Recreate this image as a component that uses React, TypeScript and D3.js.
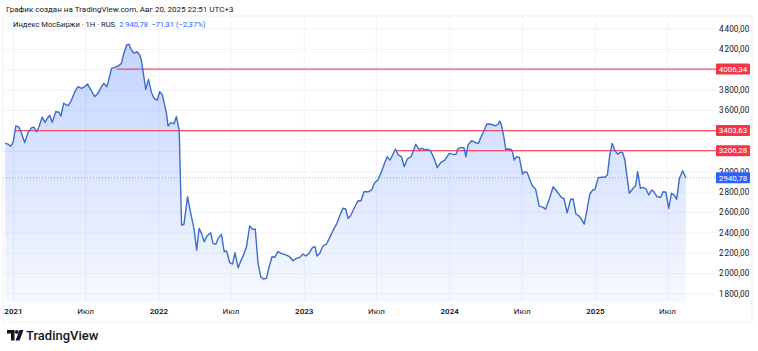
import * as d3 from "d3";

// weekly closes of the MOEX index
const dates = [
  "2020-12-11", "2020-12-18", "2020-12-25", "2020-12-31", "2021-01-07", "2021-01-14", "2021-01-21", "2021-01-29",
  "2021-02-07", "2021-02-15", "2021-02-21", "2021-02-28", "2021-03-06", "2021-03-14", "2021-03-21", "2021-03-27",
  "2021-04-02", "2021-04-08", "2021-04-17", "2021-04-25", "2021-04-30", "2021-05-07", "2021-05-18", "2021-05-25",
  "2021-06-04", "2021-06-12", "2021-06-21", "2021-06-29", "2021-07-06", "2021-07-13", "2021-07-24", "2021-08-01",
  "2021-08-10", "2021-08-16", "2021-08-23", "2021-08-27", "2021-09-04", "2021-09-12", "2021-09-21", "2021-09-29",
  "2021-10-05", "2021-10-12", "2021-10-18", "2021-10-24", "2021-10-31", "2021-11-07", "2021-11-14", "2021-11-18",
  "2021-11-29", "2021-12-06", "2021-12-14", "2021-12-20", "2021-12-28", "2022-01-03", "2022-01-10", "2022-01-20",
  "2022-01-24", "2022-01-31", "2022-02-08", "2022-02-14", "2022-02-21", "2022-02-27", "2022-03-05", "2022-03-14",
  "2022-03-22", "2022-03-30", "2022-04-06", "2022-04-12", "2022-04-18", "2022-04-25", "2022-05-02", "2022-05-11",
  "2022-05-17", "2022-05-24", "2022-05-30", "2022-06-07", "2022-06-14", "2022-06-20", "2022-06-28", "2022-07-05",
  "2022-07-11", "2022-07-19", "2022-07-26", "2022-08-02", "2022-08-09", "2022-08-17", "2022-08-24", "2022-08-31",
  "2022-09-07", "2022-09-14", "2022-09-20", "2022-09-28", "2022-10-05", "2022-10-12", "2022-10-19", "2022-10-27",
  "2022-11-04", "2022-11-17", "2022-11-25", "2022-12-04", "2022-12-12", "2022-12-21", "2022-12-29", "2023-01-05",
  "2023-01-13", "2023-01-22", "2023-01-28", "2023-02-02", "2023-02-09", "2023-02-17", "2023-02-26", "2023-03-06",
  "2023-03-14", "2023-03-24", "2023-03-31", "2023-04-08", "2023-04-15", "2023-04-21", "2023-04-27", "2023-05-08",
  "2023-05-16", "2023-05-23", "2023-05-31", "2023-06-10", "2023-06-19", "2023-06-27", "2023-07-05", "2023-07-14",
  "2023-07-22", "2023-07-28", "2023-08-04", "2023-08-11", "2023-08-18", "2023-08-25", "2023-09-02", "2023-09-09",
  "2023-09-17", "2023-09-26", "2023-10-01", "2023-10-08", "2023-10-16", "2023-10-25", "2023-10-31", "2023-11-06",
  "2023-11-14", "2023-11-23", "2023-12-01", "2023-12-10", "2023-12-20", "2023-12-31", "2024-01-10", "2024-01-17",
  "2024-01-22", "2024-01-31", "2024-02-06", "2024-02-11", "2024-02-16", "2024-02-25", "2024-03-07", "2024-03-13",
  "2024-03-21", "2024-03-28", "2024-04-03", "2024-04-11", "2024-04-19", "2024-04-26", "2024-05-02", "2024-05-06",
  "2024-05-10", "2024-05-16", "2024-05-21", "2024-05-27", "2024-06-03", "2024-06-07", "2024-06-11", "2024-06-17",
  "2024-06-24", "2024-07-02", "2024-07-08", "2024-07-14", "2024-07-20", "2024-07-27", "2024-08-04", "2024-08-13",
  "2024-08-23", "2024-08-29", "2024-09-07", "2024-09-17", "2024-09-27", "2024-10-08", "2024-10-14", "2024-10-22",
  "2024-10-31", "2024-11-06", "2024-11-13", "2024-11-21", "2024-11-27", "2024-12-04", "2024-12-12", "2024-12-18",
  "2024-12-25", "2024-12-31", "2025-01-08", "2025-01-16", "2025-01-25", "2025-01-31", "2025-02-06", "2025-02-12",
  "2025-02-19", "2025-02-26", "2025-03-04", "2025-03-10", "2025-03-16", "2025-03-22", "2025-03-27", "2025-04-06",
  "2025-04-12", "2025-04-17", "2025-04-24", "2025-05-01", "2025-05-08", "2025-05-15", "2025-05-22", "2025-05-28",
  "2025-06-05", "2025-06-14", "2025-06-20", "2025-06-27", "2025-07-04", "2025-07-11", "2025-07-18", "2025-07-24",
  "2025-07-31", "2025-08-08", "2025-08-16",
];

const closes = [
  3280, 3270, 3250, 3290, 3450, 3440, 3380, 3285,
  3390, 3430, 3438, 3392, 3441, 3536, 3484, 3524,
  3553, 3484, 3588, 3583, 3546, 3671, 3647, 3687,
  3785, 3834, 3818, 3834, 3860, 3811, 3736, 3769,
  3834, 3867, 3834, 3883, 4014, 4024, 4037, 4063,
  4162, 4243, 4250, 4194, 4162, 4177, 4145, 4096,
  3808, 3906, 3769, 3720, 3703, 3785, 3752, 3573,
  3448, 3481, 3471, 3541, 3409, 2477, 2484, 2754,
  2591, 2444, 2231, 2444, 2395, 2313, 2372, 2401,
  2297, 2287, 2346, 2385, 2215, 2222, 2107, 2094,
  2205, 2058, 2126, 2189, 2264, 2467, 2434, 2437,
  2101, 1969, 1947, 1954, 2067, 2166, 2160, 2215,
  2199, 2182, 2166, 2126, 2150, 2160, 2192, 2173,
  2199, 2258, 2264, 2173, 2199, 2271, 2290, 2356,
  2421, 2493, 2565, 2641, 2634, 2542, 2565, 2656,
  2715, 2712, 2803, 2803, 2820, 2892, 2918, 3000,
  3088, 3147, 3114, 3164, 3222, 3164, 3147, 3049,
  3126, 3147, 3196, 3269, 3220, 3229, 3213, 3220,
  3206, 3131, 3039, 3092, 3114, 3180, 3170, 3170,
  3229, 3239, 3235, 3147, 3262, 3304, 3284, 3278,
  3350, 3409, 3465, 3468, 3458, 3451, 3468, 3497,
  3458, 3343, 3220, 3222, 3220, 3190, 3114, 3147,
  3141, 2977, 3000, 2990, 2925, 2859, 2827, 2663,
  2650, 2631, 2729, 2852, 2803, 2745, 2739, 2597,
  2729, 2732, 2585, 2565, 2533, 2486, 2650, 2781,
  2820, 2827, 2941, 2945, 2945, 2967, 3164, 3278,
  3206, 3173, 3190, 3190, 3114, 2935, 2788, 2837,
  2862, 3000, 2837, 2847, 2830, 2771, 2820, 2803,
  2754, 2749, 2803, 2798, 2641, 2788, 2771, 2729,
  2935, 3010, 2940.78,
];

const yTicks = [1800, 2000, 2200, 2400, 2600, 2800, 3000, 3200, 3400, 3600, 3800, 4000, 4200, 4400];
const xTickDates = [
  "2021-01-01", "2021-07-01", "2022-01-01", "2022-07-01", "2023-01-01",
  "2023-07-01", "2024-01-01", "2024-07-01", "2025-01-01", "2025-07-01",
];
const xTickLabels = ["2021", "Июл", "2022", "Июл", "2023", "Июл", "2024", "Июл", "2025", "Июл"];

// horizontal levels drawn on the chart
const levelValues = [4006.34, 3403.63, 3206.28];
const levelStarts = ["2021-09-17", "2021-01-05", "2023-08-21"];
const lastPrice = 2940.78;

const FONT = "Roboto, 'Noto Sans', sans-serif";

export default function App() {
  const W = 758;
  const H = 351;
  const plotLeft = 3;
  const plotRight = 716;
  const plotTop = 16;
  const plotBottom = 302;

  const x = d3
    .scaleUtc()
    .domain([new Date("2021-01-01"), new Date("2025-07-01")])
    .range([13.5, 667.5]);
  const y = d3.scaleLinear().domain([1800, 4400]).range([294, 29]);

  const ru = d3.formatLocale({ decimal: ",", thousands: "\u202f", grouping: [3], currency: ["", ""] });
  const fmtAxis = ru.format(",.2f");
  const fmtLabel = d3.format(".2f");

  const pts = dates.map((d, i) => ({ date: new Date(d), v: closes[i] }));

  const line = d3
    .line<{ date: Date; v: number }>()
    .x((d) => x(d.date))
    .y((d) => y(d.v));
  const area = d3
    .area<{ date: Date; v: number }>()
    .x((d) => x(d.date))
    .y0(plotBottom)
    .y1((d) => y(d.v));

  const red = "#f23645";
  const blue = "#2962ff";

  // level tags hide the axis ticks they sit right on; 3000 stays half visible above the last-price tag
  const axisTicks = yTicks.filter((t) => levelValues.every((v) => Math.abs(y(t) - y(v)) > 5));

  return (
    <svg width={W} height={H} style={{ position: "absolute", left: 0, top: 0, background: "#fff" }} fontFamily={FONT}>
      <defs>
        <linearGradient id="fillGrad" gradientUnits="userSpaceOnUse" x1="0" y1="40" x2="0" y2={plotBottom}>
          <stop offset="0" stopColor={blue} stopOpacity={0.28} />
          <stop offset="1" stopColor={blue} stopOpacity={0.04} />
        </linearGradient>
      </defs>

      {/* header */}
      <text x={6} y={12} fontSize={8} fill="#131722">
        График создан на TradingView.com, Авг 20, 2025 22:51 UTC+3
      </text>

      {/* pane border */}
      <rect x={plotLeft} y={plotTop} width={752 - plotLeft} height={322 - plotTop} fill="none" stroke="#e0e3eb" strokeWidth={0.6} />

      {/* grid */}
      {yTicks.map((t) => (
        <line key={t} x1={plotLeft} x2={plotRight} y1={y(t)} y2={y(t)} stroke="#f0f3fa" strokeWidth={1} />
      ))}
      {xTickDates.map((d) => (
        <line key={d} x1={x(new Date(d))} x2={x(new Date(d))} y1={plotTop} y2={plotBottom} stroke="#f0f3fa" strokeWidth={1} />
      ))}

      <path d={area(pts) ?? ""} fill="url(#fillGrad)" />

      {/* last price dotted line */}
      <line x1={plotLeft} x2={plotRight} y1={y(lastPrice)} y2={y(lastPrice)} stroke={blue} strokeOpacity={0.45} strokeDasharray="1,2" strokeWidth={1} />

      {levelValues.map((v, i) => (
        <line key={v} x1={x(new Date(levelStarts[i]))} x2={plotRight} y1={y(v)} y2={y(v)} stroke={red} strokeOpacity={0.85} strokeWidth={1.2} />
      ))}

      <path d={line(pts) ?? ""} fill="none" stroke="#3d6ccb" strokeWidth={1.4} strokeLinejoin="round" />

      {/* legend */}
      <text x={13} y={27} fontSize={7.6} fill="#131722">
        Индекс МосБиржи · 1Н · RUS
        <tspan dx={4} fill={blue}>2 940,78</tspan>
        <tspan dx={3} fill={blue}>−71,31 (−2,37%)</tspan>
      </text>

      {/* price axis */}
      {axisTicks.map((t) => (
        <text key={t} x={719} y={y(t)} dy="0.35em" fontSize={8.2} fill="#131722">
          {fmtAxis(t)}
        </text>
      ))}
      {levelValues.map((v) => (
        <g key={v}>
          <rect x={716} y={y(v) - 5.5} width={34} height={11} fill={red} rx={1} />
          <text x={733} y={y(v)} dy="0.35em" fontSize={8} fill="#fff" textAnchor="middle">
            {fmtLabel(v).replace(".", ",")}
          </text>
        </g>
      ))}
      <rect x={716} y={y(lastPrice) - 5.5} width={34} height={11} fill={blue} rx={1} />
      <text x={733} y={y(lastPrice)} dy="0.35em" fontSize={8} fill="#fff" textAnchor="middle">
        {fmtLabel(lastPrice).replace(".", ",")}
      </text>

      {/* time axis */}
      {xTickDates.map((d, i) => (
        <text
          key={d}
          x={x(new Date(d))}
          y={314}
          fontSize={8}
          textAnchor="middle"
          fill="#131722"
          fontWeight={xTickLabels[i] === "Июл" ? 400 : 600}
        >
          {xTickLabels[i]}
        </text>
      ))}

      {/* logo */}
      <g fill="#131722">
        <path d="M7 330 H14.5 V340.5 H11 V333.4 H7 Z" />
        <circle cx={16.8} cy={331.9} r={1.9} />
        <path d="M19.5 330 H23.5 L19.6 340.5 H15.6 Z" />
      </g>
      <text x={26} y={340} fontSize={13} fontWeight={500} fill="#131722">
        TradingView
      </text>
    </svg>
  );
}
